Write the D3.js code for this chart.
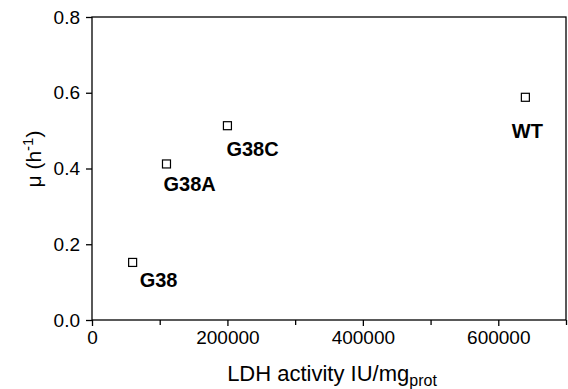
<!DOCTYPE html>
<html>
<head>
<meta charset="utf-8">
<script src="https://cdn.jsdelivr.net/npm/d3@7/dist/d3.min.js"></script>
<style>
  html, body { margin: 0; padding: 0; background: #fff; }
  svg { display: block; }
  text { font-family: "Liberation Sans", Arial, Helvetica, sans-serif; fill: #000; }
</style>
</head>
<body>
<svg id="chart" width="568" height="389"></svg>
<script>
// Strains and their measurements
const strains = ["G38", "G38A", "G38C", "WT"];
const ldhActivity = [60000, 110000, 200000, 640000];   // IU/mg protein
const growthRate = [0.152, 0.412, 0.513, 0.588];        // h^-1

// Axis ticks
const xMajorTicks = [0, 200000, 400000, 600000];
const xMinorTicks = [100000, 300000, 500000, 700000];
const yTicks = [0.0, 0.2, 0.4, 0.6, 0.8];

const svg = d3.select("#chart");
const margin = { left: 92, right: 2, top: 17, bottom: 69 };
const W = 568, H = 389;

const x = d3.scaleLinear().domain([0, 700000]).range([margin.left, W - margin.right]);
const y = d3.scaleLinear().domain([0, 0.8]).range([H - margin.bottom, margin.top]);

const axisStroke = 1.3;

// Frame
svg.append("rect")
  .attr("x", x(0)).attr("y", y(0.8))
  .attr("width", x(700000) - x(0)).attr("height", y(0) - y(0.8))
  .attr("fill", "none").attr("stroke", "#000").attr("stroke-width", axisStroke);

// Bottom axis
const xAxis = d3.axisBottom(x)
  .tickValues(xMajorTicks)
  .tickFormat(d3.format("d"))
  .tickSize(6).tickSizeOuter(0).tickPadding(5);
const gx = svg.append("g").attr("transform", `translate(0,${y(0)})`).call(xAxis);
gx.select(".domain").remove();
gx.selectAll(".tick line").attr("stroke-width", axisStroke);
gx.selectAll(".tick text").style("font-size", "19px").attr("font-family", null);

const xMinor = d3.axisBottom(x).tickValues(xMinorTicks).tickFormat("").tickSize(5).tickSizeOuter(0);
const gxm = svg.append("g").attr("transform", `translate(0,${y(0)})`).call(xMinor);
gxm.select(".domain").remove();
gxm.selectAll(".tick line").attr("stroke-width", axisStroke);

// Left axis
const yAxis = d3.axisLeft(y)
  .tickValues(yTicks)
  .tickFormat(d3.format(".1f"))
  .tickSize(6).tickSizeOuter(0).tickPadding(6);
const gy = svg.append("g").attr("transform", `translate(${x(0)},0)`).call(yAxis);
gy.select(".domain").remove();
gy.selectAll(".tick line").attr("stroke-width", axisStroke);
gy.selectAll(".tick text").style("font-size", "19px").attr("font-family", null);

// Axis titles
const xt = svg.append("text")
  .attr("x", 332)
  .attr("y", 381)
  .attr("text-anchor", "middle")
  .style("font-size", "22px");
xt.append("tspan").text("LDH activity IU/mg");
xt.append("tspan").attr("dy", 5).style("font-size", "16px").text("prot");

const yt = svg.append("text")
  .attr("transform", `translate(41,159) rotate(-90)`)
  .attr("text-anchor", "middle")
  .style("font-size", "21px");
yt.append("tspan").text("\u03bc (h");
yt.append("tspan").attr("dy", -8).style("font-size", "15px").text("-1");
yt.append("tspan").attr("dy", 8).text(")");

// Points
const pts = strains.map((s, i) => ({ name: s, ldh: ldhActivity[i], mu: growthRate[i] }));
const size = 8;
svg.append("g").selectAll("rect")
  .data(pts).join("rect")
  .attr("x", d => x(d.ldh) - size / 2)
  .attr("y", d => y(d.mu) - size / 2)
  .attr("width", size).attr("height", size)
  .attr("fill", "#fff").attr("stroke", "#000").attr("stroke-width", 1.2);

// Strain labels, offset below each marker
const labelOffset = {
  "G38":  { dx: 7,  dy: 25, anchor: "start" },
  "G38A": { dx: -3, dy: 27, anchor: "start" },
  "G38C": { dx: -1, dy: 30, anchor: "start" },
  "WT":   { dx: 2,  dy: 41, anchor: "middle" }
};
svg.append("g").selectAll("text")
  .data(pts).join("text")
  .attr("x", d => x(d.ldh) + labelOffset[d.name].dx)
  .attr("y", d => y(d.mu) + labelOffset[d.name].dy)
  .attr("text-anchor", d => labelOffset[d.name].anchor)
  .style("font-size", "20px")
  .style("font-weight", "bold")
  .text(d => d.name);
</script>
</body>
</html>
